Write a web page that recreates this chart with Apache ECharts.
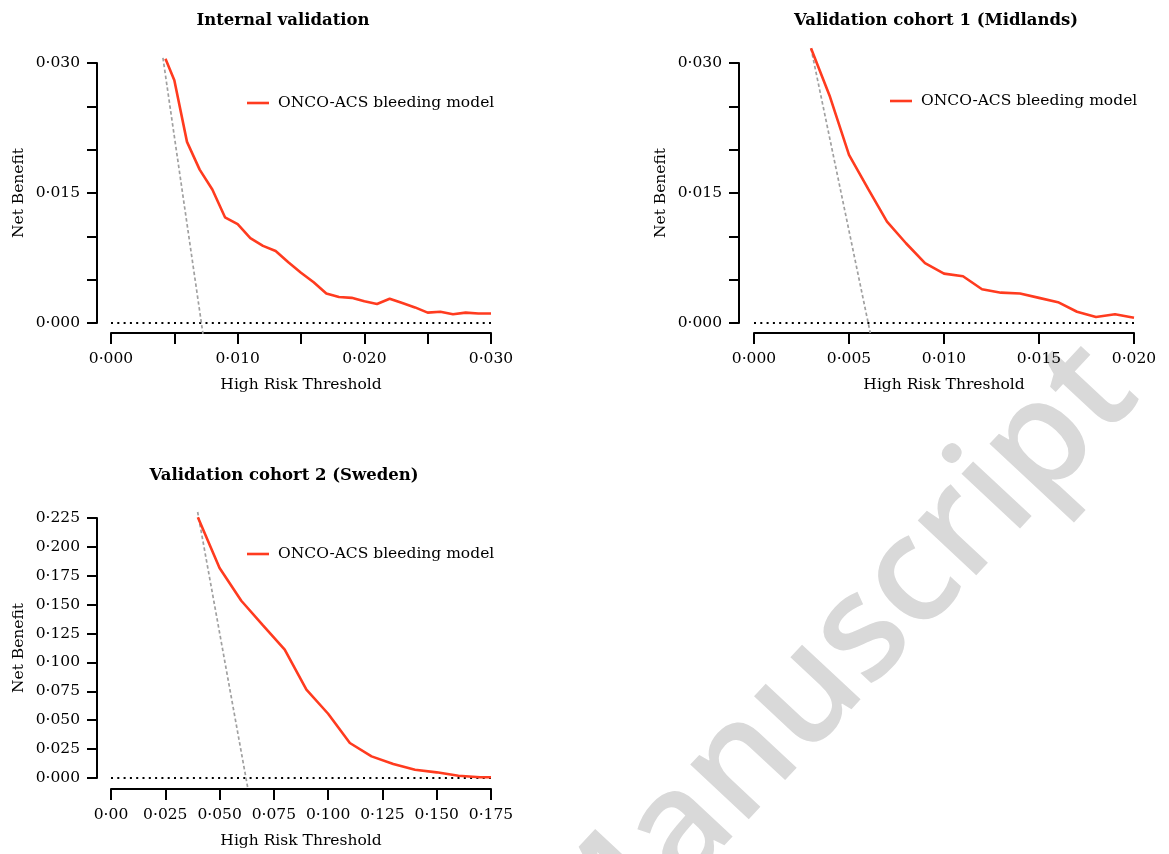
<!DOCTYPE html>
<html>
<head>
<meta charset="utf-8">
<script src="https://cdn.jsdelivr.net/npm/echarts@6/dist/echarts.min.js"></script>
<style>
html,body{margin:0;padding:0;background:#fff;}
#chart{width:1169px;height:854px;}
</style>
</head>
<body>
<div id="chart"></div>
<script>
// ---------- DATA ----------
const titles = ["Internal validation", "Validation cohort 1 (Midlands)", "Validation cohort 2 (Sweden)"];
const modelName = "ONCO-ACS bleeding model";
const xAxisName = "High Risk Threshold";
const yAxisName = "Net Benefit";

// Internal validation
const thresholdInternal = [0.0043, 0.005, 0.006, 0.007, 0.008, 0.009, 0.010, 0.011, 0.012, 0.013, 0.014, 0.015, 0.016, 0.017, 0.018, 0.019, 0.020, 0.021, 0.022, 0.023, 0.024, 0.025, 0.026, 0.027, 0.028, 0.029, 0.030];
const netBenefitInternal = [0.0305, 0.0280, 0.0209, 0.0177, 0.0154, 0.0122, 0.0114, 0.0098, 0.0089, 0.0083, 0.0070, 0.0058, 0.0047, 0.0034, 0.0030, 0.0029, 0.0025, 0.0022, 0.0028, 0.0023, 0.0018, 0.0012, 0.0013, 0.0010, 0.0012, 0.0011, 0.0011];
const treatAllInternalX = [0.0041, 0.00726];
const treatAllInternalY = [0.0306, -0.00125];

// Validation cohort 1 (Midlands)
const thresholdMidlands = [0.003, 0.004, 0.005, 0.006, 0.007, 0.008, 0.009, 0.010, 0.011, 0.012, 0.013, 0.014, 0.015, 0.016, 0.017, 0.018, 0.019, 0.020];
const netBenefitMidlands = [0.0317, 0.0261, 0.0194, 0.0155, 0.0117, 0.0092, 0.0069, 0.0057, 0.0054, 0.0039, 0.0035, 0.0034, 0.0029, 0.0024, 0.0013, 0.0007, 0.0010, 0.0006];
const treatAllMidlandsX = [0.0030, 0.00612];
const treatAllMidlandsY = [0.0317, -0.00115];

// Validation cohort 2 (Sweden)
const thresholdSweden = [0.04, 0.05, 0.06, 0.07, 0.08, 0.09, 0.10, 0.11, 0.12, 0.13, 0.14, 0.15, 0.16, 0.17, 0.175];
const netBenefitSweden = [0.2256, 0.1817, 0.1534, 0.1321, 0.1110, 0.0764, 0.0556, 0.0303, 0.0187, 0.0121, 0.0072, 0.0049, 0.0020, 0.0006, 0.0006];
const treatAllSwedenX = [0.0399, 0.0630];
const treatAllSwedenY = [0.2302, -0.0087];

// Axis ranges / ticks
const xMax = [0.030, 0.020, 0.175];
const xStep = [0.005, 0.005, 0.025];
const xLabelStep = [0.010, 0.005, 0.025];
const yMax = [0.030, 0.030, 0.225];
const yStep = [0.005, 0.005, 0.025];
const yLabelStep = [0.015, 0.015, 0.025];

const watermarkText = "Manuscript";

// ---------- CHART ----------
const FONT = "'DejaVu Serif', serif";
const RED = "#ff3b1f";
const zip = (a, b) => a.map((v, i) => [v, b[i]]);
const dot = v => v.replace('.', '\u00B7');

const grids = [
  { left: 111, top: 63, width: 380, height: 260 },
  { left: 754, top: 63, width: 380, height: 260 },
  { left: 111, top: 518, width: 380, height: 260 }
];
const yOffsets = [14, 15, 14];
const xOffsets = [10, 10, 11];

const xAxes = grids.map((g, i) => ({
  type: 'value', gridIndex: i, min: 0, max: xMax[i], interval: xStep[i],
  position: 'bottom', offset: xOffsets[i],
  axisLine: { show: true, onZero: false, lineStyle: { color: '#000', width: 2 } },
  axisTick: { show: true, length: 11, lineStyle: { color: '#000', width: 2 } },
  splitLine: { show: false },
  axisLabel: {
    color: '#000', fontSize: 15.5, fontFamily: FONT, margin: 18,
    formatter: (v) => {
      const k = v / xLabelStep[i];
      if (Math.abs(k - Math.round(k)) > 1e-6) return '';
      if (i === 2 && Math.abs(v) < 1e-12) return '0\u00B700';
      return dot(v.toFixed(3));
    }
  },
  name: xAxisName, nameLocation: 'middle', nameGap: 44,
  nameTextStyle: { color: '#000', fontSize: 15.5, fontFamily: FONT }
}));

const yAxes = grids.map((g, i) => ({
  type: 'value', gridIndex: i, min: 0, max: yMax[i], interval: yStep[i],
  position: 'left', offset: yOffsets[i],
  axisLine: { show: true, onZero: false, lineStyle: { color: '#000', width: 2 } },
  axisTick: { show: true, length: 10, lineStyle: { color: '#000', width: 2 } },
  splitLine: { show: false },
  axisLabel: {
    color: '#000', fontSize: 15.5, fontFamily: FONT, margin: 17,
    formatter: (v) => {
      const k = v / yLabelStep[i];
      if (Math.abs(k - Math.round(k)) > 1e-6) return '';
      return dot(v.toFixed(3));
    }
  },
  name: yAxisName, nameLocation: 'middle', nameGap: 70,
  nameTextStyle: { color: '#000', fontSize: 15.5, fontFamily: FONT }
}));

const modelX = [thresholdInternal, thresholdMidlands, thresholdSweden];
const modelY = [netBenefitInternal, netBenefitMidlands, netBenefitSweden];
const allX = [treatAllInternalX, treatAllMidlandsX, treatAllSwedenX];
const allY = [treatAllInternalY, treatAllMidlandsY, treatAllSwedenY];

const series = [];
for (let i = 0; i < 3; i++) {
  series.push({
    name: 'Treat none', type: 'line', xAxisIndex: i, yAxisIndex: i,
    data: [[0, 0], [xMax[i], 0]], symbol: 'none', clip: false, silent: true,
    lineStyle: { color: '#000', width: 2, type: [2, 4.3] }, z: 1
  });
  series.push({
    name: 'Treat all', type: 'line', xAxisIndex: i, yAxisIndex: i,
    data: zip(allX[i], allY[i]), symbol: 'none', clip: false, silent: true,
    lineStyle: { color: '#a0a0a0', width: 1.7, type: [3.5, 2.5] }, z: 2
  });
  series.push({
    name: modelName, type: 'line', xAxisIndex: i, yAxisIndex: i,
    data: zip(modelX[i], modelY[i]), symbol: 'none', clip: false,
    lineStyle: { color: RED, width: 2.6 }, itemStyle: { color: RED }, z: 3
  });
}

const legendPos = [[247, 95], [890, 93], [247, 546]];
const legends = legendPos.map(p => ({
  left: p[0], top: p[1], padding: 0, data: [modelName],
  icon: 'rect', itemWidth: 22, itemHeight: 2.6, selectedMode: false,
  textStyle: { color: '#000', fontSize: 15.5, fontFamily: FONT, padding: [0, 0, 0, 4] }
}));

const titlePos = [[283, 12], [936, 12], [284, 467]];
const titleOpts = titles.map((t, i) => ({
  text: t, left: titlePos[i][0], top: titlePos[i][1], textAlign: 'center', padding: 0,
  textStyle: { color: '#000', fontSize: 16.5, fontWeight: 'bold', fontFamily: FONT }
}));

const chart = echarts.init(document.getElementById('chart'), null, { renderer: 'canvas' });
chart.setOption({
  animation: false,
  backgroundColor: '#fff',
  title: titleOpts,
  legend: legends,
  grid: grids,
  xAxis: xAxes,
  yAxis: yAxes,
  series: series,
  graphic: [{
    type: 'text', x: 835, y: 665, rotation: 47 * Math.PI / 180, z: -10, silent: true,
    style: {
      text: watermarkText, fill: '#d9d9d9', fontSize: 148, fontWeight: 600,
      fontFamily: "'Open Sans', sans-serif", align: 'center', verticalAlign: 'middle'
    }
  }]
});
</script>
</body>
</html>
